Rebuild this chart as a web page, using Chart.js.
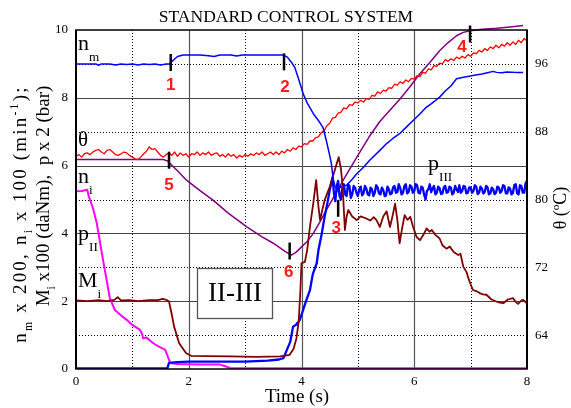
<!DOCTYPE html>
<html>
<head>
<meta charset="utf-8">
<script src="https://cdn.jsdelivr.net/npm/chart.js@4.4.1/dist/chart.umd.min.js"></script>
<style>
  html, body { margin: 0; padding: 0; background: #fff; }
  #chart { display: block; }
</style>
</head>
<body>
<canvas id="chart" width="571" height="408"></canvas>
<script>
(() => {
    'use strict';

    // ---- data (time in s, left axis units unless noted) ----

    // n_m, motor speed (blue, thin)
    const nmTime = [0, 0.2, 0.35, 0.4, 0.45, 0.6, 0.7, 0.8, 0.9, 1.0, 1.1, 1.2, 1.3, 1.4, 1.5, 1.6, 1.66, 1.72, 1.8, 1.9,
        2.2, 2.35, 2.45, 2.55, 2.75, 2.85, 2.95, 3.68, 3.75, 3.82, 3.88, 3.95, 4.03, 4.1, 4.21, 4.3, 4.38, 4.44, 4.5, 4.53,
        4.56, 4.6, 4.65, 4.7, 4.8, 4.9, 4.98, 5.1, 5.21, 5.39, 5.51, 5.62, 5.74, 5.85, 5.98, 6.1, 6.2, 6.3, 6.45, 6.55,
        6.65, 6.75, 6.85, 6.95, 7.04, 7.2, 7.3, 7.4, 7.46, 7.55, 7.65, 7.8, 7.93];
    const nmValue = [9.0, 9.0, 9.0, 8.96, 9.0, 9.0, 8.97, 9.0, 8.98, 9.0, 8.97, 9.0, 8.98, 9.0, 8.97, 9.0, 9.0, 9.1, 9.22, 9.26,
        9.26, 9.24, 9.22, 9.26, 9.26, 9.23, 9.26, 9.26, 9.2, 9.05, 8.9, 8.55, 8.12, 7.85, 7.53, 7.33, 7.13, 6.74, 6.3, 6.06,
        5.62, 5.35, 5.3, 5.38, 5.42, 5.6, 5.76, 5.95, 6.16, 6.45, 6.65, 6.8, 6.94, 7.12, 7.33, 7.52, 7.7, 7.82, 8.02, 8.2,
        8.35, 8.56, 8.6, 8.63, 8.66, 8.7, 8.74, 8.78, 8.75, 8.74, 8.76, 8.75, 8.75];

    // theta, oil temperature in deg C (red, right axis), sampled every 0.05 s from 0 s
    const thetaStep = 0.05;
    const thetaValue = [
        85.1, 85.3, 85.0, 85.4, 85.5, 85.3, 85.6, 85.8, 85.9, 85.6,
        85.4, 85.8, 85.9, 85.6, 85.3, 85.2, 85.4, 85.6, 85.5, 85.2,
        85.0, 84.8, 84.7, 85.0, 85.4, 85.7, 86.2, 85.9, 86.0, 85.6,
        85.2, 85.0, 85.3, 85.5, 85.2, 85.6, 85.1, 85.5, 85.2, 85.4,
        85.0, 85.4, 85.3, 85.6, 85.2, 85.5, 85.3, 85.6, 85.2, 85.4,
        85.5, 85.1, 85.3, 85.0, 85.4, 85.1, 85.3, 84.9, 85.2, 85.0,
        85.3, 85.1, 85.4, 85.2, 85.5, 85.3, 85.6, 85.2, 85.4, 85.6,
        85.3, 85.6, 85.3, 85.7, 85.5, 85.9, 85.7, 86.1, 85.9, 86.3,
        86.2, 86.6, 86.5, 86.9, 86.9, 87.3, 87.4, 87.9, 88.1, 88.7,
        89.0, 89.6, 89.7, 90.2, 90.3, 90.8, 90.7, 91.2, 91.1, 91.5,
        91.4, 91.7, 91.5, 91.9, 91.8, 92.3, 92.2, 92.7, 92.5, 92.9,
        92.8, 93.2, 93.1, 93.6, 93.5, 93.9, 93.7, 94.1, 93.9, 94.3,
        94.2, 94.6, 94.5, 95.0, 94.9, 95.4, 95.3, 95.8, 95.7, 96.1,
        96.0, 96.5, 96.3, 96.6, 96.4, 96.8, 96.6, 96.9, 96.7, 97.1,
        96.9, 97.3, 97.2, 97.6, 97.4, 97.8, 97.6, 98.0, 97.8, 98.2,
        97.9, 98.3, 98.1, 98.5, 98.2, 98.6, 98.3, 98.8, 98.5, 99.0,
        98.7];

    // purple curve (5 -> 6 -> 4)
    const purpleTime = [0, 1.55, 1.62, 1.8, 1.96, 2.2, 2.43, 2.7, 3.03, 3.3, 3.5, 3.7, 3.82, 3.9, 3.97, 4.1, 4.21, 4.32, 4.44,
        4.6, 4.74, 5.0, 5.2, 5.39, 5.56, 5.74, 5.92, 6.1, 6.28, 6.45, 6.6, 6.75, 6.87, 6.99, 7.2, 7.46, 7.7, 7.93];
    const purpleValue = [6.18, 6.18, 6.14, 5.85, 5.57, 5.26, 4.98, 4.6, 4.19, 3.9, 3.71, 3.48, 3.36, 3.44, 3.55, 3.76, 4.0, 4.32,
        4.69, 5.15, 5.57, 6.3, 6.85, 7.3, 7.62, 7.95, 8.32, 8.71, 9.05, 9.39, 9.63, 9.83, 9.93, 9.98, 10.02, 10.05, 10.09, 10.13];

    // n_i (magenta)
    const niTime = [0, 0.1, 0.2, 0.22, 0.3, 0.37, 0.48, 0.6, 0.69, 0.8, 0.9, 1.0, 1.13, 1.17, 1.19, 1.25, 1.37, 1.47, 1.58,
        1.62, 1.67, 1.8, 2.0, 2.2, 2.55, 2.65, 2.73, 3.0, 8.0];
    const niValue = [5.24, 5.25, 5.29, 5.13, 4.75, 4.29, 3.21, 2.09, 1.74, 1.58, 1.45, 1.3, 1.16, 1.05, 0.91, 0.93, 0.76, 0.66,
        0.57, 0.4, 0.18, 0.15, 0.14, 0.13, 0.13, 0.08, 0.03, 0.02, 0.02];

    // M_i (dark red)
    const miTime = [0, 0.2, 0.4, 0.55, 0.68, 0.74, 0.8, 0.95, 1.1, 1.3,
        1.45, 1.54, 1.6, 1.65, 1.7, 1.74, 1.83, 1.95, 2.04, 2.3,
        2.73, 3.2, 3.62, 3.79, 3.86, 3.91, 3.95, 3.98, 4.0, 4.06,
        4.1, 4.15, 4.21, 4.26, 4.3, 4.33, 4.37, 4.41, 4.5, 4.59,
        4.66, 4.7, 4.73, 4.77, 4.8, 4.83, 4.9, 4.98, 5.05, 5.15,
        5.22, 5.28, 5.33, 5.39, 5.45, 5.51, 5.57, 5.62, 5.66, 5.7,
        5.74, 5.79, 5.83, 5.88, 5.93, 5.98, 6.04, 6.1, 6.16, 6.22,
        6.27, 6.31, 6.38, 6.45, 6.5, 6.57, 6.63, 6.7, 6.78, 6.82,
        6.87, 6.93, 6.96, 7.0, 7.04, 7.1, 7.16, 7.22, 7.28, 7.37,
        7.46, 7.52, 7.58, 7.66, 7.75, 7.8, 7.84, 7.9, 7.93, 8.0];
    const miValue = [2.02, 2.0, 2.03, 2.0, 2.04, 2.12, 2.02, 2.03, 2.0, 2.03,
        2.03, 2.07, 2.04, 1.99, 1.6, 1.25, 0.76, 0.47, 0.39, 0.38,
        0.37, 0.36, 0.37, 0.42, 0.6, 0.9, 1.4, 2.3, 3.12, 3.16,
        3.5, 4.2, 4.9, 5.57, 4.8, 4.39, 4.7, 4.98, 5.37, 5.86,
        6.25, 5.9, 5.37, 4.1, 4.5, 4.69, 4.5, 4.39, 4.5, 4.44,
        4.38, 4.48, 4.39, 4.19, 4.5, 4.65, 4.19, 4.55, 4.88, 4.4,
        3.71, 4.2, 4.54, 4.4, 4.49, 4.19, 3.9, 3.8, 3.95, 4.15,
        4.05, 4.1, 3.95, 3.85, 3.65, 3.55, 3.61, 3.45, 3.36, 3.4,
        3.02, 2.85, 2.68, 2.5, 2.33, 2.3, 2.24, 2.2, 2.19, 2.05,
        1.99, 1.96, 1.94, 2.05, 2.09, 1.98, 1.92, 2.02, 2.04, 1.94];

    // p_III (blue, thick): filling phase, then noisy plateau sampled every 0.025 s from 4.55 s
    const pIIITime = [0, 0.4, 0.8, 1.2, 1.62, 1.65, 1.8, 2.0, 2.5, 3.0, 3.4, 3.6, 3.68, 3.75, 3.8, 3.85, 3.9, 3.97, 4.02, 4.08,
        4.15, 4.2, 4.27, 4.3, 4.36, 4.41, 4.46, 4.5];
    const pIIIValue = [0.02, 0.02, 0.02, 0.02, 0.02, 0.18, 0.2, 0.22, 0.22, 0.22, 0.25, 0.28, 0.32, 0.6, 0.8, 1.25, 1.3, 1.45,
        1.7, 2.0, 2.33, 2.8, 3.12, 3.5, 4.0, 4.49, 4.9, 5.27];
    const pIIIPlateauStart = 4.55;
    const pIIIPlateauStep = 0.025;
    const pIIIPlateau = [
        5.65, 5.2, 4.95, 5.4, 5.55, 5.1, 5.0, 5.35, 5.45, 5.15,
        5.1, 5.45, 5.4, 5.05, 5.15, 5.4, 5.35, 5.2, 5.1, 5.3,
        5.38, 5.12, 5.18, 5.4, 5.32, 5.15, 5.12, 5.35, 5.3, 5.1,
        5.2, 5.42, 5.36, 5.18, 5.15, 5.35, 5.28, 5.1, 5.12, 5.38,
        5.3, 5.15, 5.18, 5.36, 5.4, 5.2, 5.22, 5.45, 5.35, 5.15,
        5.2, 5.4, 5.45, 5.18, 5.22, 5.42, 5.38, 5.2, 5.25, 5.45,
        5.42, 5.2, 5.18, 5.38, 5.35, 5.15, 5.0, 5.25, 5.3, 5.45,
        5.22, 5.32, 5.4, 5.15, 5.2, 5.38, 5.33, 5.16, 5.18, 5.36,
        5.4, 5.2, 5.22, 5.38, 5.35, 5.15, 5.2, 5.4, 5.3, 5.22,
        5.42, 5.2, 5.25, 5.4, 5.38, 5.18, 5.2, 5.36, 5.35, 5.2,
        5.25, 5.42, 5.38, 5.16, 5.2, 5.38, 5.32, 5.18, 5.22, 5.4,
        5.36, 5.15, 5.18, 5.35, 5.3, 5.16, 5.2, 5.38, 5.35, 5.2,
        5.25, 5.42, 5.4, 5.18, 5.18, 5.36, 5.32, 5.15, 5.2, 5.42,
        5.45, 5.18, 5.15, 5.42, 5.4, 5.2, 5.2, 5.48, 5.55];

    // event markers 1..6
    const markerNames = ['1', '2', '3', '4', '5', '6'];
    const markerTime = [1.68, 3.69, 4.65, 6.99, 1.65, 3.79];
    const markerLevel = [9.04, 9.06, 4.74, 9.88, 6.16, 3.48];

    // axis ticks
    const xTicks = [0, 2, 4, 6, 8];
    const leftTicks = [0, 2, 4, 6, 8, 10];
    const rightTicks = [64, 72, 80, 88, 96];

    // ---- layout / style ----
    const SERIF = '"Liberation Serif", "Times New Roman", serif';
    const markerOffset = [[0, 23], [1, 25], [-2, 20], [-8, 13], [0, 25], [-1, 21]];

    const toPoints = (t, v) => t.map((x, i) => ({ x: x, y: v[i] }));
    const sampled = (start, step, v) => v.map((y, i) => ({ x: +(start + i * step).toFixed(3), y: y }));

    // text with sub/superscripts, parts = [[text, '' | 'sub' | 'sup'], ...]
    function drawRich(ctx, parts, x, y, size, opts) {
        const o = Object.assign({ align: 'left', subScale: 0.62, subDrop: 0.45, spacing: 0 }, opts);
        const sizes = parts.map(p => (p[1] ? size * o.subScale : size));
        ctx.letterSpacing = o.spacing + 'px';
        let total = 0;
        const widths = parts.map((p, i) => {
            ctx.font = sizes[i] + 'px ' + SERIF;
            const w = ctx.measureText(p[0]).width;
            total += w;
            return w;
        });
        let cx = o.align === 'center' ? x - total / 2 : x;
        parts.forEach((p, i) => {
            ctx.font = sizes[i] + 'px ' + SERIF;
            let dy = 0;
            if (p[1] === 'sub') dy = size * o.subDrop;
            if (p[1] === 'sup') dy = -size * 0.4;
            ctx.fillText(p[0], cx, y + dy);
            cx += widths[i];
        });
        ctx.letterSpacing = '0px';
    }

    const overlay = {
        id: 'overlay',
        beforeDatasetsDraw(chart) {
            const { ctx, chartArea: a, scales } = chart;
            const xs = scales.x, ys = scales.y;
            ctx.save();
            // horizontal grid
            for (let v = 1; v <= 9; v++) {
                const py = Math.round(ys.getPixelForValue(v)) + 0.5;
                ctx.beginPath();
                if (v % 2 === 0) {
                    ctx.setLineDash([]);
                    ctx.strokeStyle = '#444';
                    ctx.lineWidth = 1.2;
                } else {
                    ctx.setLineDash([1, 2]);
                    ctx.strokeStyle = '#000';
                    ctx.lineWidth = 1;
                }
                ctx.moveTo(a.left, py);
                ctx.lineTo(a.right, py);
                ctx.stroke();
            }
            // vertical grid
            for (let v = 1; v <= 7; v++) {
                const px = Math.round(xs.getPixelForValue(v)) + 0.5;
                ctx.beginPath();
                if (v % 2 === 0) {
                    ctx.setLineDash([]);
                    ctx.strokeStyle = '#555';
                    ctx.lineWidth = 1.2;
                } else {
                    ctx.setLineDash([1, 2]);
                    ctx.strokeStyle = '#000';
                    ctx.lineWidth = 1;
                }
                ctx.moveTo(px, a.top);
                ctx.lineTo(px, a.bottom);
                ctx.stroke();
            }
            ctx.setLineDash([]);

            // II-III box
            ctx.fillStyle = '#fff';
            ctx.strokeStyle = '#555';
            ctx.lineWidth = 1.3;
            ctx.fillRect(197, 268, 75, 50);
            ctx.strokeRect(197.5, 268.5, 75, 50);
            ctx.fillStyle = '#000';
            ctx.font = '27px ' + SERIF;
            ctx.textAlign = 'center';
            ctx.textBaseline = 'middle';
            ctx.fillText('II-III', 235, 294);
            ctx.restore();
        },
        afterDatasetsDraw(chart) {
            const { ctx, chartArea: a, scales } = chart;
            const xs = scales.x, ys = scales.y;
            ctx.save();

            // frame
            ctx.strokeStyle = '#000';
            ctx.lineWidth = 1.5;
            ctx.strokeRect(a.left, a.top, a.right - a.left, a.bottom - a.top);
            ctx.lineWidth = 2;
            ctx.beginPath();
            ctx.moveTo(a.left, a.top);
            ctx.lineTo(a.left, a.bottom);
            ctx.moveTo(a.right, a.top);
            ctx.lineTo(a.right, a.bottom);
            ctx.stroke();

            // event markers
            markerNames.forEach((name, i) => {
                const px = xs.getPixelForValue(markerTime[i]);
                const py = ys.getPixelForValue(markerLevel[i]);
                ctx.strokeStyle = '#000';
                ctx.lineWidth = 2.5;
                ctx.beginPath();
                ctx.moveTo(px, py - 8.5);
                ctx.lineTo(px, py + 8.5);
                ctx.stroke();
                ctx.fillStyle = '#ff1a1a';
                ctx.font = 'bold 17px "Liberation Sans", Arial, sans-serif';
                ctx.textAlign = 'center';
                ctx.textBaseline = 'middle';
                ctx.fillText(name, px + markerOffset[i][0], py + markerOffset[i][1]);
            });

            // curve names
            ctx.fillStyle = '#000';
            ctx.textAlign = 'left';
            ctx.textBaseline = 'alphabetic';
            const lab = { subScale: 0.6, subDrop: 0.5 };
            drawRich(ctx, [['n', ''], ['m', 'sub']], 78, 50, 22, lab);
            drawRich(ctx, [['\u03b8', '']], 78, 146, 21, lab);
            drawRich(ctx, [['n', ''], ['i', 'sub']], 78, 183, 22, lab);
            drawRich(ctx, [['p', ''], ['II', 'sub']], 78, 240, 22, lab);
            drawRich(ctx, [['M', ''], ['i', 'sub']], 78, 287, 22, lab);
            drawRich(ctx, [['p', ''], ['III', 'sub']], 428, 170, 22, lab);
            ctx.restore();
        },
        afterDraw(chart) {
            const ctx = chart.ctx;
            ctx.save();
            ctx.fillStyle = '#000';
            ctx.textBaseline = 'alphabetic';
            ctx.textAlign = 'left';

            // title
            ctx.font = '17.5px ' + SERIF;
            ctx.textAlign = 'center';
            ctx.fillText('STANDARD CONTROL SYSTEM', 286, 22);
            // x title
            ctx.font = '19px ' + SERIF;
            ctx.fillText('Time (s)', 297, 402);
            ctx.textAlign = 'left';

            // left title, two rotated lines
            const ttl = { align: 'center', subScale: 0.62, subDrop: 0.3 };
            ctx.save();
            ctx.translate(26, 214);
            ctx.rotate(-Math.PI / 2);
            drawRich(ctx, [['n', ''], ['m', 'sub'], [' x 200, n', ''], ['i', 'sub'], [' x 100 (min', ''], ['-1', 'sup'], [');', '']],
                0, 0, 19, Object.assign({}, ttl, { spacing: 2.2 }));
            ctx.restore();
            ctx.save();
            ctx.translate(49, 196);
            ctx.rotate(-Math.PI / 2);
            drawRich(ctx, [['M', ''], ['i', 'sub'], [' x100 (daNm),  p x 2 (bar)', '']], 0, 0, 19, ttl);
            ctx.restore();

            // right title
            ctx.save();
            ctx.translate(566, 208);
            ctx.rotate(-Math.PI / 2);
            drawRich(ctx, [['\u03b8 (', ''], ['o', 'sup'], ['C)', '']], 0, 0, 18, { align: 'center' });
            ctx.restore();
            ctx.restore();
        }
    };

    Chart.defaults.font.family = SERIF;
    Chart.defaults.color = '#000';

    const pIIIPoints = toPoints(pIIITime, pIIIValue).concat(sampled(pIIIPlateauStart, pIIIPlateauStep, pIIIPlateau));

    new Chart(document.getElementById('chart'), {
        type: 'line',
        data: {
            datasets: [
                { label: 'n_m', data: toPoints(nmTime, nmValue), borderColor: '#0000ff', borderWidth: 1.5 },
                { label: 'M_i', data: toPoints(miTime, miValue), borderColor: '#800000', borderWidth: 1.8 },
                { label: 'p_III', data: pIIIPoints, borderColor: '#0000ff', borderWidth: 2.3 },
                { label: 'theta', data: sampled(0, thetaStep, thetaValue), borderColor: '#ff0000', borderWidth: 1.3, yAxisID: 'y1' },
                { label: 'purple', data: toPoints(purpleTime, purpleValue), borderColor: '#800080', borderWidth: 1.5, clip: false },
                { label: 'n_i', data: toPoints(niTime, niValue), borderColor: '#ff00ff', borderWidth: 2 }
            ]
        },
        options: {
            responsive: false,
            animation: false,
            events: [],
            devicePixelRatio: 1,
            layout: { padding: { top: 30, left: 0, right: 0, bottom: 0 } },
            elements: {
                point: { radius: 0 },
                line: { tension: 0, fill: false, borderJoinStyle: 'round' }
            },
            plugins: {
                legend: { display: false },
                tooltip: { enabled: false }
            },
            scales: {
                x: {
                    type: 'linear',
                    min: 0,
                    max: 8,
                    grid: { display: false, drawTicks: false },
                    border: { display: false },
                    ticks: { font: { size: 13 }, padding: 5 },
                    afterBuildTicks: s => { s.ticks = xTicks.map(v => ({ value: v })); },
                    afterFit: s => { s.height = 39; }
                },
                y: {
                    position: 'left',
                    min: 0,
                    max: 10,
                    grid: { display: false, drawTicks: false },
                    border: { display: false },
                    ticks: { font: { size: 13 }, padding: 8 },
                    afterBuildTicks: s => { s.ticks = leftTicks.map(v => ({ value: v })); },
                    afterFit: s => { s.width = 76; }
                },
                y1: {
                    position: 'right',
                    min: 60,
                    max: 100,
                    grid: { display: false, drawTicks: false },
                    border: { display: false },
                    ticks: { font: { size: 13 }, padding: 8 },
                    afterBuildTicks: s => { s.ticks = rightTicks.map(v => ({ value: v })); },
                    afterFit: s => { s.width = 44; }
                }
            }
        },
        plugins: [overlay]
    });
})();
</script>
</body>
</html>
